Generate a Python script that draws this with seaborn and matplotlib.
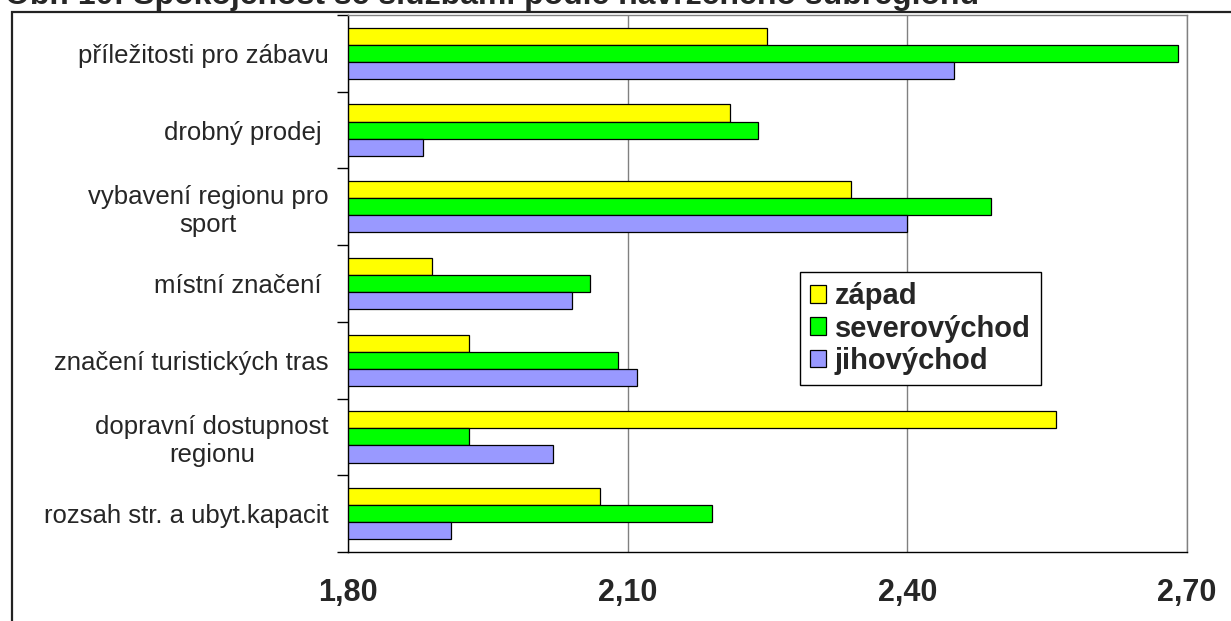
import numpy as np
import pandas as pd
import matplotlib
matplotlib.use("Agg")
import matplotlib.pyplot as plt
from matplotlib.patches import Rectangle
from matplotlib.ticker import FixedLocator, FuncFormatter
import seaborn as sns

title = "Obr. 10: Spokojenost se službami podle navrženého subregionu"

categories = [
    "příležitosti pro zábavu",
    "drobný prodej ",
    "vybavení regionu pro\nsport",
    "místní značení ",
    "značení turistických tras",
    "dopravní dostupnost\nregionu",
    "rozsah str. a ubyt.kapacit",
]
regions = ["západ", "severovýchod", "jihovýchod"]

zapad = [2.25, 2.21, 2.34, 1.89, 1.93, 2.56, 2.07]
severovychod = [2.69, 2.24, 2.49, 2.06, 2.09, 1.93, 2.19]
jihovychod = [2.45, 1.88, 2.40, 2.04, 2.11, 2.02, 1.91]

x_ticks = [1.80, 2.10, 2.40, 2.70]
colors = ["#FFFF00", "#00FF00", "#9999FF"]

df = pd.DataFrame({
    "kategorie": categories * 3,
    "subregion": [r for r in regions for _ in categories],
    "hodnota": zapad + severovychod + jihovychod,
})

sns.set_style("white")
plt.rcParams["font.family"] = ["Liberation Sans", "DejaVu Sans"]

fig = plt.figure(figsize=(12.31, 6.21), dpi=100)
W, H = 1231, 621
ax = fig.add_axes([348 / W, 1 - 552 / H, (1187 - 348) / W, (552 - 15) / H])

sns.barplot(
    data=df, y="kategorie", x="hodnota", hue="subregion",
    order=categories, hue_order=regions, palette=colors,
    orient="h", width=0.667, edgecolor="black", linewidth=0.9,
    saturation=1, ax=ax, legend=True,
)

ax.set_xlim(x_ticks[0], x_ticks[-1])
ax.set_ylim(len(categories) - 0.5, -0.5)
ax.set_xlabel("")
ax.set_ylabel("")

# vertical gridlines
ax.set_axisbelow(True)
ax.xaxis.set_major_locator(FixedLocator(x_ticks))
ax.xaxis.set_major_formatter(FuncFormatter(lambda v, p: f"{v:.2f}".replace(".", ",")))
ax.grid(axis="x", color="#808080", linewidth=1.0)
ax.grid(axis="y", visible=False)

ax.tick_params(axis="x", direction="out", length=7, width=1, color="black",
               pad=12, labelsize=22)
for lbl in ax.get_xticklabels():
    lbl.set_fontweight("bold")

# category boundaries as minor ticks on the y axis
ax.yaxis.set_minor_locator(FixedLocator(np.arange(-0.5, len(categories), 1.0)))
ax.tick_params(axis="y", which="major", length=0, pad=14, labelsize=18.5)
ax.tick_params(axis="y", which="minor", direction="out", length=8, width=1,
               color="black", left=True)
for lbl in ax.get_yticklabels():
    lbl.set_multialignment("center")

for side in ["top", "right"]:
    ax.spines[side].set_color("#808080")
    ax.spines[side].set_linewidth(1.0)
for side in ["left", "bottom"]:
    ax.spines[side].set_color("black")
    ax.spines[side].set_linewidth(1.0)

leg = ax.legend(
    loc="upper left", bbox_to_anchor=(800 / W, 1 - 272 / H),
    bbox_transform=fig.transFigure, borderaxespad=0, fancybox=False,
    frameon=True, edgecolor="black", framealpha=1,
    prop={"weight": "bold", "size": 21}, handlelength=0.55, handleheight=0.55,
    handletextpad=0.3, labelspacing=0.15, borderpad=0.35,
)
leg.get_frame().set_linewidth(1.0)

# outer chart frame
fig.add_artist(Rectangle((12 / W, -0.2), 1.2, 1.2 - 12 / H + 0.0,
                         transform=fig.transFigure, fill=False,
                         edgecolor="#222222", linewidth=1.6))

fig.text(0.004, 1 - 4 / H, title, fontsize=23, fontweight="bold",
         ha="left", va="baseline")

fig.savefig("out.png", dpi=100)
